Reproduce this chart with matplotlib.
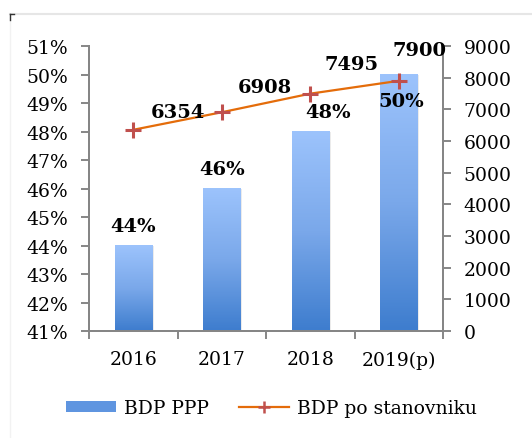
import matplotlib
matplotlib.use('Agg')

import matplotlib.pyplot as plt
import numpy as np
from matplotlib.colors import LinearSegmentedColormap
from matplotlib.lines import Line2D
from matplotlib.patches import Patch

years = ['2016', '2017', '2018', '2019(p)']
bdp_ppp = [44, 46, 48, 50]            # %
bdp_po_stanovniku = [6354, 6908, 7495, 7900]

plt.rcParams['font.family'] = 'DejaVu Serif'

fig = plt.figure(figsize=(5.32, 4.39), dpi=100)
ax = fig.add_axes([89 / 532, 1 - 332 / 439, (443 - 89) / 532, (332 - 47) / 439])
ax2 = ax.twinx()

# frame of the chart area
fig.add_artist(Line2D([10 / 532, 1], [1 - 15 / 439] * 2, color='#e6e6e6', lw=1.5))
fig.add_artist(Line2D([10 / 532] * 2, [1 - 15 / 439, 0], color='#f2f2f2', lw=1))
fig.add_artist(Line2D([10 / 532, 10 / 532], [1 - 15 / 439, 1 - 21 / 439], color='#333333', lw=1))
fig.add_artist(Line2D([10 / 532, 14 / 532], [1 - 15 / 439] * 2, color='#333333', lw=1))

x = np.arange(len(years))
w = 0.42
grad = LinearSegmentedColormap.from_list('g', ['#3e7dce', '#7aa8ea', '#9cc3fc'])
g = np.linspace(0, 1, 100).reshape(-1, 1)
for xi, v in zip(x, bdp_ppp):
    # soft shadow
    ax.bar(xi + 0.02, v - 41, width=w, bottom=41, color='#000000', alpha=0.08, zorder=1)
    ax.imshow(g, cmap=grad, origin='lower', aspect='auto',
              extent=[xi - w / 2, xi + w / 2, 41, v], zorder=2)

ax.set_xlim(-0.5, 3.5)
ax.set_ylim(41, 51)
ax.set_yticks(range(41, 52))
ax.set_yticklabels([f'{t}%' for t in range(41, 52)])
ax.set_xticks(x)
ax.set_xticklabels(years)
ax.set_xticks(np.arange(-0.5, 4, 1), minor=True)

ax2.plot(x, bdp_po_stanovniku, color='#e46c0a', lw=1.6, marker='+', ms=11,
         mew=2.2, mec='#c0504d', zorder=5)
ax2.set_ylim(0, 9000)
ax2.set_yticks(range(0, 9001, 1000))

spine_c = '#868686'
for a in (ax, ax2):
    for s in a.spines.values():
        s.set_color(spine_c)
        s.set_linewidth(1.4)
    a.spines['top'].set_visible(False)
ax.tick_params(axis='y', direction='out', length=6, width=1.4, color=spine_c,
               labelsize=13.5, pad=9)
ax2.tick_params(axis='y', direction='out', length=6, width=1.4, color=spine_c,
                labelsize=13.5, pad=9)
ax.tick_params(axis='x', which='major', length=0, labelsize=13.5, pad=14)
ax.tick_params(axis='x', which='minor', direction='out', length=6, width=1.4, color=spine_c)

# bar labels
bar_off = [(0, 14), (0, 14), (13, 14), (2, -19)]
for xi, v, off in zip(x, bdp_ppp, bar_off):
    ax.annotate(f'{v}%', (xi, v), xytext=off, textcoords='offset points',
                ha='center', va='center', fontsize=14, fontweight='bold', zorder=6)

# line labels
line_off = [(32, 13), (31, 18), (30, 21), (15, 22)]
for xi, v, off in zip(x, bdp_po_stanovniku, line_off):
    ax2.annotate(str(v), (xi, v), xytext=off, textcoords='offset points',
                 ha='center', va='center', fontsize=14, fontweight='bold', zorder=6)

handles = [Patch(facecolor='#5f95e0', edgecolor='none'),
           Line2D([], [], color='#e46c0a', lw=1.6, marker='+', ms=8, mew=1.8, mec='#c0504d')]
fig.legend(handles, ['BDP PPP', 'BDP po stanovniku'], loc='center',
           bbox_to_anchor=(0.51, 1 - 409 / 439), ncol=2, frameon=False,
           fontsize=13.5, handlelength=2.7, handleheight=0.55, columnspacing=1.6,
           handletextpad=0.4)

fig.savefig('out.png', dpi=100)
